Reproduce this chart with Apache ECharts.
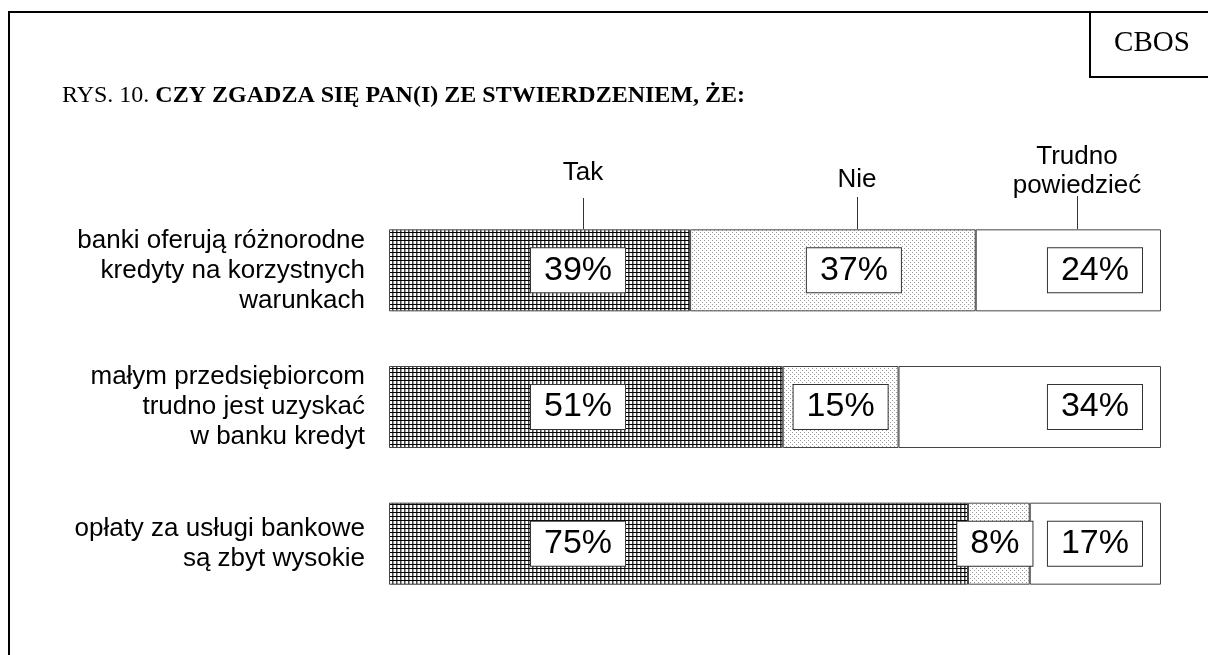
<!DOCTYPE html>
<html>
<head>
<meta charset="utf-8">
<script src="https://cdn.jsdelivr.net/npm/echarts@6/dist/echarts.min.js"></script>
<style>
  html, body { margin: 0; padding: 0; background: #fff; }
  #chart { width: 1208px; height: 655px; }
</style>
</head>
<body>
<div id="chart"></div>
<script>
// ---- Data ----
const categories = [
  'banki oferują różnorodne\nkredyty na korzystnych\nwarunkach',
  'małym przedsiębiorcom\ntrudno jest uzyskać\nw banku kredyt',
  'opłaty za usługi bankowe\nsą zbyt wysokie'
];
const seriesNames = ['Tak', 'Nie', 'Trudno\npowiedzieć'];
const takValues = [39, 51, 75];
const nieValues = [37, 15, 8];
const trudnoValues = [24, 34, 17];
const titlePrefix = 'RYS. 10. ';
const titleMain = 'CZY ZGADZA SIĘ PAN(I) ZE STWIERDZENIEM, ŻE:';
const sourceLabel = 'CBOS';

// ---- Patterns ----
function gridPattern() {
  const c = document.createElement('canvas');
  c.width = 4; c.height = 4;
  const g = c.getContext('2d');
  g.fillStyle = '#ffffff'; g.fillRect(0, 0, 4, 4);
  g.fillStyle = '#444444'; g.fillRect(0, 0, 1, 4);
  g.fillStyle = '#999999'; g.fillRect(1, 0, 1, 4);
  g.fillStyle = '#000000'; g.fillRect(0, 0, 4, 1);
  return c;
}
function dotPattern() {
  const c = document.createElement('canvas');
  c.width = 4; c.height = 4;
  const g = c.getContext('2d');
  g.fillStyle = '#ffffff'; g.fillRect(0, 0, 4, 4);
  g.fillStyle = '#9a9a9a';
  g.fillRect(0, 0, 1, 1);
  g.fillRect(2, 2, 1, 1);
  return c;
}

const SANS = '"Liberation Sans", Arial, sans-serif';
const SERIF = '"Liberation Serif", "Times New Roman", serif';

const boxLabel = {
  show: true,
  formatter: '{c}%',
  fontFamily: SANS,
  fontSize: 34,
  lineHeight: 34,
  color: '#000',
  backgroundColor: '#ffffff',
  borderColor: '#333333',
  borderWidth: 1,
  padding: [5, 13, 5, 13]
};
const barBorder = { borderColor: '#444444', borderWidth: 1 };

const nieOffsets = [[21, 0], [0, 0], [-4, 0]];

const chart = echarts.init(document.getElementById('chart'), null, { renderer: 'canvas' });
chart.setOption({
  animation: false,
  backgroundColor: '#ffffff',
  grid: { left: 389, right: 47, top: 202, bottom: 43, containLabel: false },
  xAxis: { type: 'value', min: 0, max: 100, show: false },
  yAxis: {
    type: 'category',
    data: categories,
    inverse: true,
    axisLine: { show: false },
    axisTick: { show: false },
    splitLine: { show: false },
    axisLabel: {
      margin: 24,
      align: 'right',
      fontFamily: SANS,
      fontSize: 26,
      lineHeight: 30,
      color: '#000'
    }
  },
  series: [
    {
      name: seriesNames[0], type: 'bar', stack: 'all', barWidth: 82,
      data: takValues,
      itemStyle: Object.assign({ color: { image: gridPattern(), repeat: 'repeat' } }, barBorder),
      label: Object.assign({ position: 'insideLeft', distance: 142 }, boxLabel)
    },
    {
      name: seriesNames[1], type: 'bar', stack: 'all', barWidth: 82,
      data: nieValues.map((v, i) => ({ value: v, label: { offset: nieOffsets[i] } })),
      itemStyle: Object.assign({ color: { image: dotPattern(), repeat: 'repeat' } }, barBorder),
      label: Object.assign({ position: 'inside' }, boxLabel)
    },
    {
      name: seriesNames[2], type: 'bar', stack: 'all', barWidth: 82,
      data: trudnoValues,
      itemStyle: Object.assign({ color: '#ffffff' }, barBorder),
      label: Object.assign({ position: 'insideRight', distance: 19 }, boxLabel)
    }
  ],
  graphic: [
    // outer frame
    { type: 'rect', shape: { x: 9, y: 12, width: 1260, height: 720 },
      style: { fill: 'none', stroke: '#000', lineWidth: 2 }, silent: true },
    // source box
    { type: 'rect', shape: { x: 1090, y: 12, width: 160, height: 65 },
      style: { fill: '#fff', stroke: '#000', lineWidth: 2 }, silent: true },
    { type: 'text', x: 1152, y: 43,
      style: { text: sourceLabel, font: '29px ' + SERIF, fill: '#000', textAlign: 'center', textVerticalAlign: 'middle' } },
    // title
    { type: 'text', x: 62, y: 96,
      style: {
        text: '{n|' + titlePrefix + '}{b|' + titleMain + '}',
        textVerticalAlign: 'middle',
        rich: {
          n: { fontFamily: SERIF, fontSize: 24, color: '#000' },
          b: { fontFamily: SERIF, fontSize: 24, fontWeight: 'bold', color: '#000' }
        }
      } },
    // legend callouts
    { type: 'text', x: 583, y: 173,
      style: { text: seriesNames[0], font: '26px ' + SANS, fill: '#000', textAlign: 'center', textVerticalAlign: 'middle' } },
    { type: 'line', shape: { x1: 583.5, y1: 198, x2: 583.5, y2: 229 }, style: { stroke: '#333', lineWidth: 1 } },
    { type: 'text', x: 857, y: 180,
      style: { text: seriesNames[1], font: '26px ' + SANS, fill: '#000', textAlign: 'center', textVerticalAlign: 'middle' } },
    { type: 'line', shape: { x1: 857.5, y1: 197, x2: 857.5, y2: 229 }, style: { stroke: '#333', lineWidth: 1 } },
    { type: 'text', x: 1077, y: 171,
      style: { text: seriesNames[2], font: '26px ' + SANS, lineHeight: 29, fill: '#000', textAlign: 'center', textVerticalAlign: 'middle' } },
    { type: 'line', shape: { x1: 1077.5, y1: 196, x2: 1077.5, y2: 229 }, style: { stroke: '#333', lineWidth: 1 } }
  ]
});
</script>
</body>
</html>
